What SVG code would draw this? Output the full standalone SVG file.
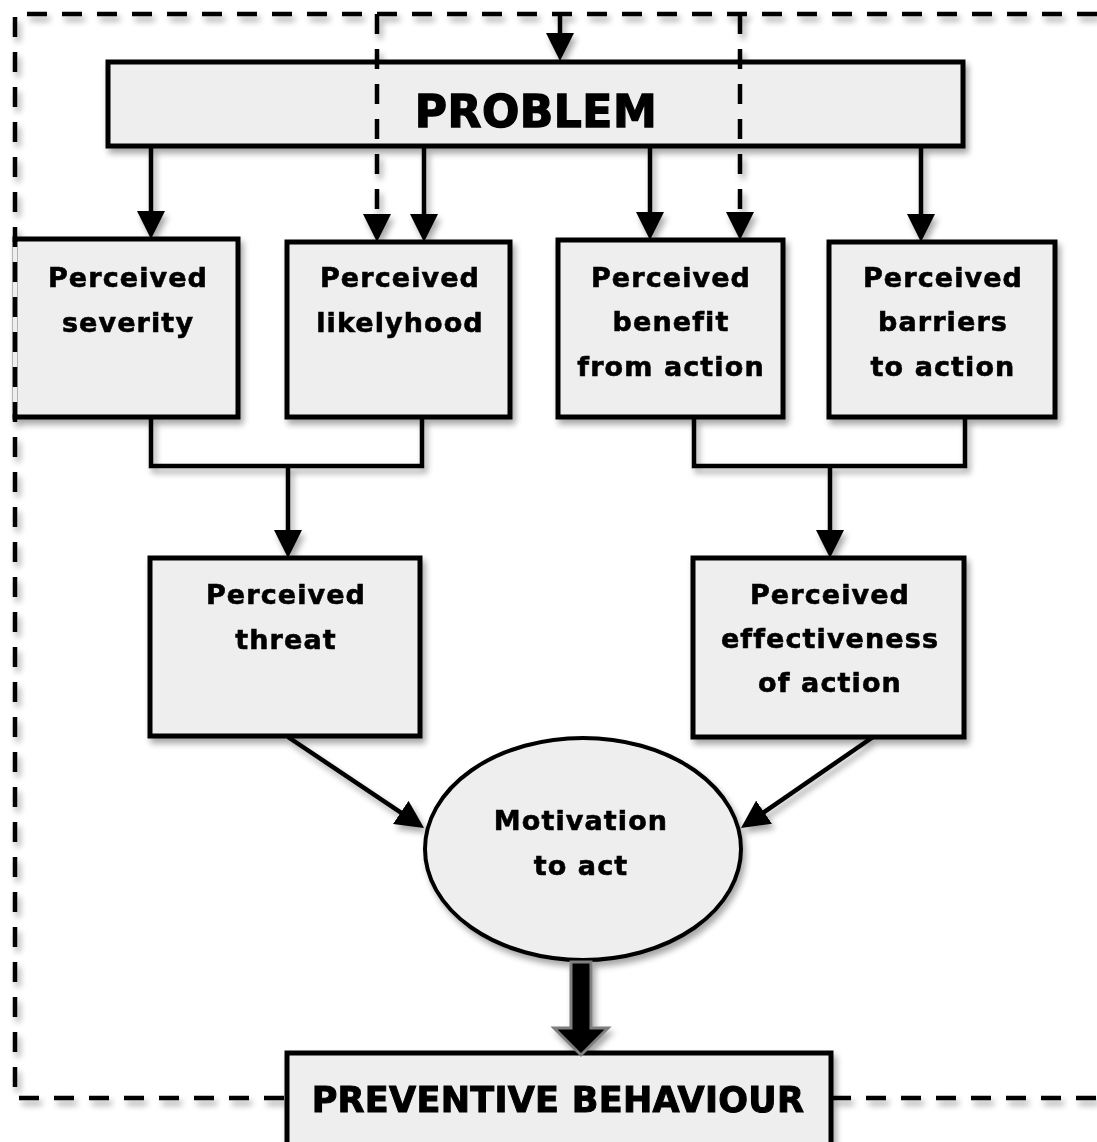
<svg xmlns="http://www.w3.org/2000/svg" width="1097" height="1142" viewBox="0 0 1097 1142">
<defs>
<filter id="sh" filterUnits="userSpaceOnUse" x="0" y="0" width="1097" height="1142">
<feGaussianBlur in="SourceAlpha" stdDeviation="3"/>
<feOffset dx="3" dy="5" result="b"/>
<feComponentTransfer><feFuncA type="linear" slope="0.35"/></feComponentTransfer>
<feMerge><feMergeNode/><feMergeNode in="SourceGraphic"/></feMerge>
</filter>
<marker id="ah" viewBox="0 0 28 28" refX="11" refY="14" markerUnits="userSpaceOnUse" markerWidth="28" markerHeight="28" orient="auto">
<path d="M0,0 L28,14 L0,28 Z" fill="#000"/>
</marker>
</defs>
<style>
.box{fill:#eeeeee;stroke:#000;stroke-width:5}
.t{font-family:"DejaVu Sans","Verdana",sans-serif;font-weight:bold;font-size:27px;letter-spacing:1.1px;text-anchor:middle;fill:#000;stroke:#000;stroke-width:0.6px}
.big{font-size:44px;letter-spacing:0.5px;stroke-width:1.3px}
.pb{font-size:35px;letter-spacing:0.3px;stroke-width:1px}
.ln{fill:none;stroke:#000;stroke-width:4.5}
.dash{fill:none;stroke:#000;stroke-width:4.5;stroke-dasharray:20 15}
</style>
<rect width="1097" height="1142" fill="#fff"/>
<g filter="url(#sh)">
<g id="problem"><rect class="box" x="108" y="62" width="855" height="84"/><text class="t big" x="536" y="127">PROBLEM</text></g>
<g id="severity"><rect class="box" x="15" y="239" width="223" height="178"/><text class="t" x="128" y="287">Perceived</text><text class="t" x="128" y="332">severity</text></g>
<g id="likelyhood"><rect class="box" x="287" y="242" width="223" height="175"/><text class="t" x="400" y="287">Perceived</text><text class="t" x="400" y="332">likelyhood</text></g>
<g id="benefit"><rect class="box" x="558" y="240" width="225" height="177"/><text class="t" x="671" y="287">Perceived</text><text class="t" x="671" y="331">benefit</text><text class="t" x="671" y="376">from action</text></g>
<g id="barriers"><rect class="box" x="829" y="242" width="226" height="175"/><text class="t" x="943" y="287">Perceived</text><text class="t" x="943" y="331">barriers</text><text class="t" x="943" y="376">to action</text></g>
<g id="threat"><rect class="box" x="150" y="558" width="270" height="178"/><text class="t" x="286" y="604">Perceived</text><text class="t" x="286" y="649">threat</text></g>
<g id="effectiveness"><rect class="box" x="693" y="558" width="271" height="179"/><text class="t" x="830" y="604">Perceived</text><text class="t" x="830" y="648">effectiveness</text><text class="t" x="830" y="692">of action</text></g>
<g id="motivation"><ellipse fill="#eeeeee" stroke="#000" stroke-width="4" cx="583" cy="849" rx="158" ry="111"/><text class="t" x="581" y="830">Motivation</text><text class="t" x="581" y="875">to act</text></g>
<g id="preventive"><rect class="box" x="287" y="1053" width="544" height="100"/><text class="t pb" x="558" y="1112">PREVENTIVE BEHAVIOUR</text></g>
<g id="connectors">
<path d="M15,242 V414" fill="none" stroke="#eeeeee" stroke-width="5"/>
<path class="dash" d="M1097,14 H15 V1098 H287"/>
<path class="dash" d="M831,1098 H1097"/>
<path class="dash" d="M377,14 V225" marker-end="url(#ah)"/>
<path class="dash" d="M740,14 V223" marker-end="url(#ah)"/>
<path class="ln" d="M560,14 V44" marker-end="url(#ah)"/>
<path class="ln" d="M151,146 V222" marker-end="url(#ah)"/>
<path class="ln" d="M424,146 V225" marker-end="url(#ah)"/>
<path class="ln" d="M650,146 V223" marker-end="url(#ah)"/>
<path class="ln" d="M921,146 V225" marker-end="url(#ah)"/>
<path class="ln" d="M151,417 V466 H422 V417"/>
<path class="ln" d="M288,466 V541" marker-end="url(#ah)"/>
<path class="ln" d="M694,417 V466 H965 V417"/>
<path class="ln" d="M830,466 V541" marker-end="url(#ah)"/>
<path class="ln" d="M288,737 L409.9,818.6" marker-end="url(#ah)"/>
<path class="ln" d="M873,737 L755,818.4" marker-end="url(#ah)"/>
<path d="M571,962 H591 V1028 H608 L581,1055 L554,1028 H571 Z" fill="#000" stroke="#7f7f7f" stroke-width="3"/>
</g>
</g>
</svg>
